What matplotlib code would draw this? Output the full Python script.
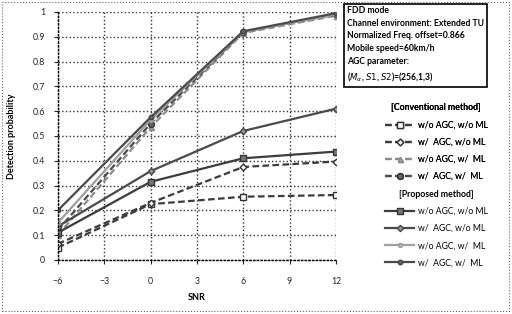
import matplotlib.pyplot as plt
from matplotlib.patches import Rectangle

plt.rcParams['font.family'] = ['Lato', 'DejaVu Sans']

snr = [-6, 0, 6, 12]

# conventional method (dashed)
conv_labels = ['w/o AGC, w/o ML', 'w/  AGC, w/o ML', 'w/o AGC, w/  ML', 'w/  AGC, w/  ML']
conv_vals = [
    [0.05, 0.225, 0.255, 0.262],
    [0.065, 0.23, 0.375, 0.397],
    [0.10, 0.535, 0.915, 0.985],
    [0.12, 0.55, 0.92, 0.99],
]

# proposed method (solid)
prop_labels = ['w/o AGC, w/o ML', 'w/  AGC, w/o ML', 'w/o AGC, w/  ML', 'w/  AGC, w/  ML']
prop_vals = [
    [0.11, 0.315, 0.41, 0.437],
    [0.135, 0.358, 0.52, 0.61],
    [0.15, 0.565, 0.92, 0.99],
    [0.20, 0.575, 0.922, 0.995],
]

conv_styles = [
    dict(marker='s', mfc='white', mec='#333333', ms=4.2, color='#3c3c3c'),
    dict(marker='D', mfc='white', mec='#333333', ms=3.4, color='#3c3c3c'),
    dict(marker='^', mfc='#aaaaaa', mec='#888888', ms=3.6, color='#8c8c8c'),
    dict(marker='o', mfc='#666666', mec='#333333', ms=4.2, color='#4a4a4a'),
]
prop_styles = [
    dict(marker='s', mfc='#777777', mec='#333333', ms=4.2, color='#3c3c3c'),
    dict(marker='D', mfc='#999999', mec='#444444', ms=3.2, color='#4a4a4a'),
    dict(marker='o', mfc='#bbbbbb', mec='#999999', ms=2.8, color='#a0a0a0'),
    dict(marker='o', mfc='#666666', mec='#444444', ms=3.2, color='#4a4a4a'),
]

fig = plt.figure(figsize=(5.12, 3.14), dpi=100)
ax = fig.add_axes([0.113, 0.172, 0.543, 0.79])

conv_lines = []
for vals, st in zip(conv_vals, conv_styles):
    ln, = ax.plot(snr, vals, linestyle='--', linewidth=1.6, dashes=(3, 1.5), **st)
    conv_lines.append(ln)
prop_lines = []
for vals, st in zip(prop_vals, prop_styles):
    ln, = ax.plot(snr, vals, linestyle='-', linewidth=1.6, **st)
    prop_lines.append(ln)

ax.set_xlim(-6, 12)
ax.set_ylim(0, 1)
ax.set_xticks([-6, -3, 0, 3, 6, 9, 12])
ax.set_yticks([0, 0.1, 0.2, 0.3, 0.4, 0.5, 0.6, 0.7, 0.8, 0.9, 1])
ax.set_yticklabels(['0', '0.1', '0.2', '0.3', '0.4', '0.5', '0.6', '0.7', '0.8', '0.9', '1'])
ax.tick_params(labelsize=6.3, length=3, width=0.8, colors='#222222', pad=6)
ax.tick_params(axis='x', pad=9)
ax.grid(True, linestyle=':', linewidth=1.0, color='#333333')
for side in ['top', 'right']:
    ax.spines[side].set_visible(False)
for side in ['left', 'bottom']:
    ax.spines[side].set_linestyle(':')
    ax.spines[side].set_linewidth(1.0)
ax.set_xlabel('SNR', fontsize=6.5, fontweight='bold', labelpad=5)
ax.set_ylabel('Detection probability', fontsize=6.5, fontweight='bold', labelpad=12)

fig.text(0.678, 0.982,
         'FDD mode\nChannel environment: Extended TU\nNormalized Freq. offset=0.866\n'
         'Mobile speed=60km/h\nAGC parameter:\n' r'($M_{\alpha}$, $S1$, $S2$)=(256,1,3)',
         fontsize=6.2, fontweight='bold', va='top', ha='left', linespacing=1.55,
         bbox=dict(boxstyle='square,pad=0.35', fc='white', ec='black', lw=1.2))

leg_kw = dict(loc='upper left', frameon=False, fontsize=6.2, title_fontsize=6.3,
              labelspacing=0.95, handlelength=3.4, handletextpad=0.4, borderpad=0.2)
leg1 = fig.legend(conv_lines, conv_labels, bbox_to_anchor=(0.74, 0.69),
                  title='[Conventional method]', **leg_kw)
leg1.get_title().set_fontweight('bold')
leg2 = fig.legend(prop_lines, prop_labels, bbox_to_anchor=(0.74, 0.415),
                  title='[Proposed method]', **leg_kw)
leg2.get_title().set_fontweight('bold')
fig.add_artist(leg1)

fig.patches.append(Rectangle((0.004, 0.008), 0.99, 0.985, transform=fig.transFigure,
                             fill=False, ec='#666666', lw=0.8, ls=':'))

fig.savefig('out.png', dpi=100)
